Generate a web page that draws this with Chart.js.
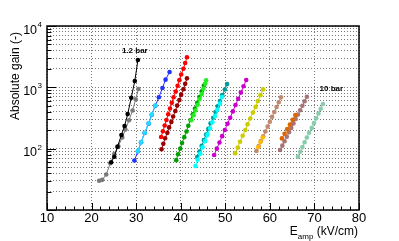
<!DOCTYPE html>
<html>
<head>
<meta charset="utf-8">
<script src="https://cdn.jsdelivr.net/npm/chart.js@4.4.0/dist/chart.umd.min.js"></script>
<style>
  html, body { margin: 0; padding: 0; background: #fff; }
</style>
</head>
<body>
<canvas id="chart" width="399" height="241"></canvas>
<script>
// gain curves, one per pressure (E_amp in kV/cm, absolute gain)
var grayE = [21.7, 22.4, 23.3, 24.2, 25.1, 26.0, 26.9, 27.6, 28.4, 29.2, 29.9, 30.5];
var grayG = [30, 31, 38, 58, 82, 110, 152, 205, 290, 420, 640, 940];

var blackE = [24.4, 25.1, 25.8, 26.7, 27.4, 28.1, 28.9, 29.7, 30.4];
var blackG = [60, 74, 107, 167, 234, 366, 676, 1270, 2790];

var blueE = [29.6, 30.4, 31.1, 31.9, 32.8, 33.5, 34.3, 35.1, 35.9, 36.6, 37.5];
var blueG = [64, 91, 127, 180, 256, 357, 500, 690, 975, 1335, 1780];

var cyanE = [30.4, 31.1, 31.9, 32.8, 33.5, 34.3];
var cyanG = [92, 128, 182, 258, 360, 505];

var darkRedE = [35.7, 36.1, 36.5, 37.0, 37.4, 37.9, 38.3, 38.8, 39.2, 39.7, 40.1, 40.6, 41.0, 41.4];
var darkRedG = [98, 120, 148, 181, 222, 273, 335, 411, 504, 619, 760, 930, 1140, 1400];

var redE = [35.6, 36.0, 36.4, 36.8, 37.2, 37.6, 38.0, 38.4, 38.9, 39.3, 39.7, 40.1, 40.6, 41.0, 41.4];
var redG = [155, 192, 238, 294, 364, 451, 558, 691, 855, 1060, 1310, 1620, 2010, 2490, 3090];

var darkGreenE = [39.0, 39.4, 39.9, 40.3, 40.8, 41.3, 41.7, 42.2, 42.7, 43.2, 43.7, 44.2, 44.7, 45.2];
var darkGreenG = [65, 81, 100, 124, 154, 190, 237, 294, 365, 452, 560, 695, 860, 1070];

var greenE = [42.4, 42.9, 43.3, 43.8, 44.2, 44.7, 45.1, 45.5, 45.7];
var greenG = [290, 350, 420, 520, 640, 780, 950, 1150, 1300];

var tealE = [43.7, 44.2, 44.7, 45.2, 45.7, 46.2, 46.7, 47.3, 47.8, 48.3, 48.8, 49.3, 49.9, 50.4];
var tealG = [73, 90, 111, 138, 170, 210, 260, 320, 395, 490, 600, 745, 920, 1130];

var cyan2E = [43.3, 43.8, 44.4, 44.9, 45.5, 46.0, 46.6, 47.1, 47.7, 48.2, 48.8, 49.3];
var cyan2G = [52, 66, 83, 105, 133, 168, 213, 270, 340, 430, 545, 695];

var magentaE = [47.5, 48.1, 48.7, 49.3, 49.9, 50.5, 51.1, 51.7, 52.3, 52.9, 53.5, 54.1, 54.7];
var magentaG = [79, 100, 126, 160, 202, 255, 320, 405, 515, 650, 820, 1040, 1320];

var yellowE = [52.2, 52.8, 53.3, 53.9, 54.5, 55.0, 55.6, 56.2, 56.8, 57.3, 57.9, 58.5];
var yellowG = [84, 104, 130, 162, 201, 250, 311, 387, 480, 598, 745, 927];

var brownE = [57.0, 57.5, 58.0, 58.5, 59.0, 59.5, 60.0, 60.5, 61.0, 61.5, 62.0, 62.5];
var brownG = [92, 110, 133, 159, 191, 229, 275, 330, 396, 476, 571, 687];

var goldE = [57.4, 57.9, 58.4];
var goldG = [106, 128, 152];

var mauveE = [62.3, 62.8, 63.3, 63.8, 64.3, 64.8, 65.3, 65.8, 66.3, 66.8, 67.3, 67.8, 68.3];
var mauveG = [95, 112, 132, 156, 185, 218, 258, 304, 359, 424, 501, 592, 703];

var orangeE = [62.7, 63.3, 63.9, 64.5, 65.1, 65.7];
var orangeG = [147, 175, 208, 248, 295, 353];

var seaE = [66.3, 66.8, 67.3, 67.8, 68.3, 68.8, 69.4, 69.9, 70.4, 70.9, 71.4, 71.9];
var seaG = [74, 89, 106, 127, 152, 182, 218, 261, 312, 374, 447, 535];

var yDecades = [100, 1000, 10000];
var yDecadeExp = ['2', '3', '4'];
var notes = [{text: '1.2 bar', e: 29.7, g: 3950}, {text: '10 bar', e: 73.8, g: 963}];

// later entries are drawn on top
var curves = [
    [grayE, grayG, '#7a7a7a'],
    [blackE, blackG, '#000000'],
    [blueE, blueG, '#2233ff'],
    [cyanE, cyanG, '#22ddff'],
    [darkRedE, darkRedG, '#990000'],
    [redE, redG, '#ff0000'],
    [darkGreenE, darkGreenG, '#00a000'],
    [greenE, greenG, '#22ee22'],
    [tealE, tealG, '#009999'],
    [cyan2E, cyan2G, '#00ffff'],
    [magentaE, magentaG, '#cc00cc'],
    [yellowE, yellowG, '#cccc00'],
    [brownE, brownG, '#c08a70'],
    [goldE, goldG, '#ffbb00'],
    [mauveE, mauveG, '#a87474'],
    [orangeE, orangeG, '#dd6600'],
    [seaE, seaG, '#88ccaa']
];

var datasets = curves.map(function (c, i) {
    return {
        data: c[0].map(function (e, k) { return {x: e, y: c[1][k]}; }),
        showLine: true,
        borderColor: c[2],
        backgroundColor: c[2],
        borderWidth: 1,
        pointRadius: 2.3,
        pointBorderWidth: 0,
        order: -i
    };
});

var font = '"Liberation Sans", Arial, sans-serif';

var rootStyle = {
    id: 'rootStyle',
    afterDraw: function (chart) {
        var ctx = chart.ctx, a = chart.chartArea;
        var xs = chart.scales.x, ys = chart.scales.y;
        ctx.save();
        ctx.strokeStyle = '#000';
        ctx.fillStyle = '#000';

        // ticks (inside the frame)
        ctx.lineWidth = 1;
        ctx.beginPath();
        for (var v = 10; v <= 80; v += 2) {
            var px = Math.round(xs.getPixelForValue(v)) + 0.5;
            var len = (v % 10 === 0) ? 7 : 3.5;
            ctx.moveTo(px, a.bottom);
            ctx.lineTo(px, a.bottom - len);
        }
        for (var d = 10; d < 10000; d *= 10) {
            for (var m = 1; m <= 10; m++) {
                var py = Math.round(ys.getPixelForValue(m * d)) + 0.5;
                var l = (m === 1 || m === 10) ? 9 : 4.5;
                ctx.moveTo(a.left, py);
                ctx.lineTo(a.left + l, py);
            }
        }
        ctx.stroke();

        // frame
        ctx.lineWidth = 1.5;
        ctx.strokeRect(a.left, a.top, a.right - a.left, a.bottom - a.top);

        // y labels 10^n
        yDecades.forEach(function (val, i) {
            var py = ys.getPixelForValue(val);
            ctx.font = '8px ' + font;
            ctx.textAlign = 'right';
            ctx.textBaseline = 'alphabetic';
            var we = ctx.measureText(yDecadeExp[i]).width;
            ctx.fillText(yDecadeExp[i], 42, py + 1);
            ctx.font = '12.5px ' + font;
            ctx.fillText('10', 42 - we - 0.5, py + 7.5);
        });

        // y title
        ctx.save();
        ctx.translate(16, 32);
        ctx.rotate(-Math.PI / 2);
        ctx.font = '12px ' + font;
        ctx.textAlign = 'right';
        ctx.textBaseline = 'middle';
        ctx.fillText('Absolute gain (-)', 0, 0);
        ctx.restore();

        // x title with subscript
        ctx.textAlign = 'left';
        ctx.textBaseline = 'alphabetic';
        ctx.font = '12px ' + font;
        var wE = ctx.measureText('E').width;
        var wR = ctx.measureText(' (kV/cm)').width;
        ctx.font = '8px ' + font;
        var wS = ctx.measureText('amp').width;
        var x0 = 358 - wE - wS - wR;
        ctx.font = '12px ' + font;
        ctx.fillText('E', x0, 235);
        ctx.font = '8px ' + font;
        ctx.fillText('amp', x0 + wE, 238.5);
        ctx.font = '12px ' + font;
        ctx.fillText(' (kV/cm)', x0 + wE + wS, 235);

        // pressure notes
        ctx.font = 'bold 8px ' + font;
        ctx.textAlign = 'center';
        ctx.textBaseline = 'middle';
        notes.forEach(function (n) {
            ctx.fillText(n.text, xs.getPixelForValue(n.e), ys.getPixelForValue(n.g));
        });
        ctx.restore();
    }
};

var ctx = document.getElementById('chart').getContext('2d');
var myChart = new Chart(ctx, {
    type: 'scatter',
    data: { datasets: datasets },
    options: {
        responsive: false,
        animation: false,
        devicePixelRatio: 1,
        layout: { padding: { left: 0, top: 26, right: 40, bottom: 0 } },
        plugins: { legend: { display: false }, tooltip: { enabled: false } },
        scales: {
            x: {
                type: 'linear',
                min: 10,
                max: 80,
                ticks: { stepSize: 10, color: '#000', padding: 1, font: { size: 13, family: font } },
                grid: { color: '#777777', lineWidth: 1, drawTicks: false },
                border: { display: false, dash: [1, 2] },
                afterFit: function (s) { s.height = 31; }
            },
            y: {
                type: 'logarithmic',
                min: 10,
                max: 10000,
                ticks: { display: false, autoSkip: false },
                grid: { color: '#777777', lineWidth: 1, drawTicks: false },
                border: { display: false, dash: [1, 2] },
                afterBuildTicks: function (s) {
                    var t = [];
                    for (var d = 10; d < 10000; d *= 10) {
                        for (var m = 1; m < 10; m++) t.push({ value: m * d });
                    }
                    t.push({ value: 10000 });
                    s.ticks = t;
                },
                afterFit: function (s) { s.width = 47; }
            }
        }
    },
    plugins: [rootStyle]
});
</script>
</body>
</html>
